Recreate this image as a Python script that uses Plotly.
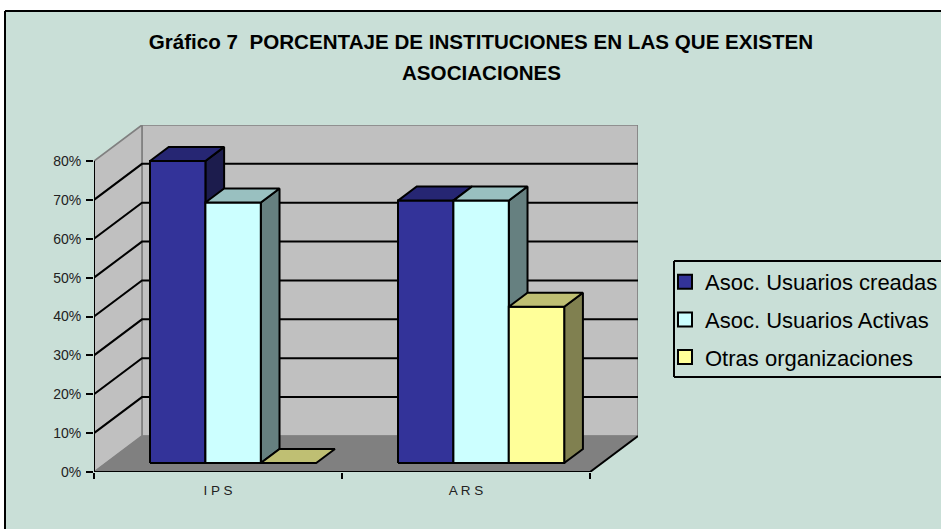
import plotly.graph_objects as go

# ---- data ----
categories = ["I P S", "A R S"]
series_names = ["Asoc. Usuarios creadas", "Asoc. Usuarios Activas", "Otras organizaciones"]
creadas = [77.7, 67.5]
activas = [67.0, 67.5]
otras = [0.0, 40.2]
y_ticks = [0, 10, 20, 30, 40, 50, 60, 70, 80]
y_labels = ["0%", "10%", "20%", "30%", "40%", "50%", "60%", "70%", "80%"]
title_line1 = "Gráfico 7  PORCENTAJE DE INSTITUCIONES EN LAS QUE EXISTEN"
title_line2 = "ASOCIACIONES"

# ---- styles ----
front_colors = ["#333399", "#CCFFFF", "#FFFF99"]
top_colors = ["#262673", "#99C0C0", "#BFBF73"]
side_colors = ["#1C1C4D", "#668080", "#808050"]
BG = "#C9DFD7"
WALL = "#C0C0C0"
FLOOR = "#808080"
EDGE = "#808080"

W, H = 941, 529
PX_X0, PX_X1 = 94, 638      # front-left of axis, back-right of wall
PX_Y0, PX_Y1 = 472, 125     # zero on front plane, top of the back wall
PX_PER_CAT = 248.0
PX_PER_PCT = 311 / 80.0
DEPTH_X = 48 / PX_PER_CAT   # oblique shift of the whole floor depth, in axis units
DEPTH_Y = 36 / PX_PER_PCT
BAR_W = 55.4 / PX_PER_CAT
BAR_START = 56 / PX_PER_CAT
BAR_D0, BAR_D1 = 0.25, 0.64  # bar front/back depth as a share of floor depth
LW = 2


def proj(x, v, d):
    return x + d * DEPTH_X, v + d * DEPTH_Y


def poly(points, fill, line="black", width=LW, mode="lines"):
    xs, ys = [], []
    for x, v, d in points:
        a, b = proj(x, v, d)
        xs.append(a)
        ys.append(b)
    xs.append(xs[0])
    ys.append(ys[0])
    return go.Scatter(x=xs, y=ys, mode=mode, fill="toself", fillcolor=fill,
                      line=dict(color=line, width=width), showlegend=False,
                      hoverinfo="skip", cliponaxis=False)


def seg(points, color="black", width=LW):
    xs, ys = [], []
    for p in points:
        if p is None:
            xs.append(None)
            ys.append(None)
        else:
            a, b = proj(*p)
            xs.append(a)
            ys.append(b)
    return go.Scatter(x=xs, y=ys, mode="lines", line=dict(color=color, width=width),
                      showlegend=False, hoverinfo="skip", cliponaxis=False)


def edge(x0, y0, x1, y1):
    return dict(type="line", xref="paper", yref="paper", layer="below",
                x0=x0 / W, x1=x1 / W, y0=1 - y0 / H, y1=1 - y1 / H,
                line=dict(color="black", width=2))


n_cat = len(categories)
top_v = max(y_ticks)
fig = go.Figure()

# walls and floor
fig.add_trace(poly([(0, 0, 1), (n_cat, 0, 1), (n_cat, top_v, 1), (0, top_v, 1)], WALL, EDGE, 1.7))
fig.add_trace(poly([(0, 0, 0), (0, 0, 1), (0, top_v, 1), (0, top_v, 0)], WALL, EDGE, 1.7))
fig.add_trace(poly([(0, 0, 0), (n_cat, 0, 0), (n_cat, 0, 1), (0, 0, 1)], FLOOR, FLOOR, 1))

# gridlines on the side and back walls
grid = []
for t in y_ticks[1:-1]:
    grid += [(0, t, 0), (0, t, 1), (n_cat, t, 1), None]
fig.add_trace(seg(grid))
fig.add_trace(seg([(n_cat, 0, 0), (n_cat, 0, 1), None]))

# bars
all_values = [creadas, activas, otras]
for c in range(n_cat):
    for s, values in enumerate(all_values):
        v = values[c]
        x0 = c + BAR_START + s * BAR_W - BAR_D0 * DEPTH_X
        x1 = x0 + BAR_W
        if v > 0:
            fig.add_trace(poly([(x1, 0, BAR_D0), (x1, 0, BAR_D1), (x1, v, BAR_D1), (x1, v, BAR_D0)], side_colors[s]))
            fig.add_trace(poly([(x0, 0, BAR_D0), (x1, 0, BAR_D0), (x1, v, BAR_D0), (x0, v, BAR_D0)], front_colors[s]))
        fig.add_trace(poly([(x0, v, BAR_D0), (x1, v, BAR_D0), (x1, v, BAR_D1), (x0, v, BAR_D1)], top_colors[s]))

# front axis lines
fig.add_trace(seg([(0, top_v, 0), (0, 0, 0), (n_cat, 0, 0)], width=2))

# legend entries
for s, name in enumerate(series_names):
    fig.add_trace(go.Scatter(x=[None], y=[None], mode="markers", name=name, legendgroup=name,
                             marker=dict(symbol="square", size=14, color=front_colors[s],
                                         line=dict(color="black", width=2))))

fig.update_layout(
    width=W, height=H, autosize=False,
    margin=dict(l=0, r=0, t=0, b=0, pad=0, autoexpand=False),
    paper_bgcolor="white", plot_bgcolor="rgba(0,0,0,0)",
    font=dict(family="Liberation Sans, Arial", color="black"),
    title=dict(text="<b>%s</b>" % title_line1, x=481 / W, xanchor="center",
               y=1 - 42 / H, yanchor="middle", font=dict(size=20.6)),
    annotations=[dict(text="<b>%s</b>" % title_line2, xref="paper", yref="paper",
                      x=481 / W, y=1 - 73 / H, xanchor="center", yanchor="middle",
                      showarrow=False, font=dict(size=20.6))],
    shapes=[
        dict(type="rect", xref="paper", yref="paper", layer="below",
             x0=5 / W, x1=1, y0=0, y1=1 - 11 / H, fillcolor=BG, line=dict(width=0)),
        edge(5, 11, 5, H),
        edge(5, 11, W, 11),
        edge(674, 261, W, 261),
        edge(674, 377, W, 377),
        edge(674, 261, 674, 377),
    ],
    showlegend=True,
    legend=dict(x=665 / W, y=1 - 261 / H, xanchor="left", yanchor="top",
                bgcolor="rgba(0,0,0,0)", borderwidth=0, entrywidth=220, entrywidthmode="pixels",
                font=dict(size=22, color="black"), tracegroupgap=6,
                traceorder="grouped", itemclick=False, itemdoubleclick=False),
    xaxis=dict(domain=[PX_X0 / W, PX_X1 / W], range=[0, (PX_X1 - PX_X0) / PX_PER_CAT],
               showgrid=False, zeroline=False, showline=False,
               tickmode="array", tickvals=[i + 0.5 for i in range(n_cat)], ticktext=categories,
               ticks="", ticklabelstandoff=8, tickfont=dict(size=13.5, color="#222222"),
               minor=dict(tickmode="array", tickvals=list(range(n_cat + 1)), ticks="outside",
                          ticklen=6, tickwidth=2, tickcolor="black", showgrid=False),
               fixedrange=True),
    yaxis=dict(domain=[1 - PX_Y0 / H, 1 - PX_Y1 / H], range=[0, (PX_Y0 - PX_Y1) / PX_PER_PCT],
               showgrid=False, zeroline=False, showline=False,
               tickmode="array", tickvals=y_ticks, ticktext=y_labels,
               ticks="outside", ticklen=7, tickwidth=2, tickcolor="black",
               ticklabelstandoff=2, tickfont=dict(size=14, color="#222222"),
               fixedrange=True),
)

fig.write_html("out.html", config={"displayModeBar": False},
               post_script="document.body.style.margin='0';document.documentElement.style.overflow='hidden';")
